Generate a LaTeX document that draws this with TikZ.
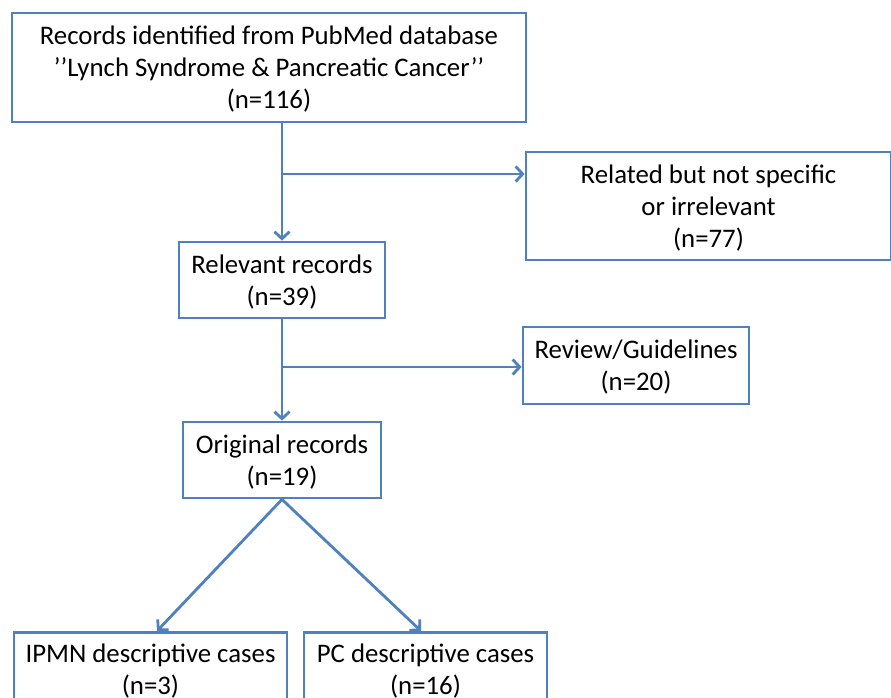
\documentclass[tikz,border=0pt]{standalone}
\usepackage{fontspec}
\setmainfont{Carlito}
\usetikzlibrary{arrows.meta,calc}
\definecolor{boxblue}{RGB}{79,129,189}
\begin{document}
\begin{tikzpicture}[x=1pt,y=-1pt,
  txt/.style={font=\fontsize{26.8}{32}\selectfont, align=center, inner sep=0pt, text=black},
  box/.style={txt, draw=boxblue, line width=2.8pt, text depth=-3.5pt},
  link/.style={draw=boxblue, line width=2.8pt,
    -{Straight Barb[length=7pt,width=15pt,line width=2.8pt]}}]
\useasboundingbox[fill=white] (0,0) rectangle (891,698);
\node[box, minimum width=514pt, minimum height=109pt] (rec) at (269,67.5)
  {Records identified from PubMed database\\’’Lynch Syndrome \& Pancreatic Cancer’’\\(n=116)};
\node[box, minimum width=365pt, minimum height=108pt] (irr) at (708.5,206)
  {Related but not specific\\or irrelevant\\(n=77)};
\node[box, minimum width=206pt, minimum height=76pt] (rel) at (282,280)
  {Relevant records\\(n=39)};
\node[box, minimum width=226pt, minimum height=77pt] (rev) at (636,365.5)
  {Review/Guidelines\\(n=20)};
\node[box, minimum width=198pt, minimum height=76pt] (orig) at (282,460)
  {Original records\\(n=19)};
\node[box, minimum width=273pt, minimum height=120pt, anchor=north] (ipmn) at (150.5,631)
  {};
\node[box, anchor=north, minimum width=243pt, minimum height=120pt] (pc) at (425.5,631)
  {};
\node[txt, anchor=north] (ipmnt) at ($(ipmn.north)+(0,13)$)
  {IPMN descriptive cases\\(n=3)};
\node[txt, anchor=north] (pct) at ($(pc.north)+(0,13)$)
  {PC descriptive cases\\(n=16)};
\coordinate (b1) at (282,174);
\coordinate (b2) at (282,367);
\draw[link] (rec.south -| rel.north) -- (rel.north);
\draw[link] (b1) -- (b1 -| irr.west);
\draw[link] (rel.south) -- (orig.north);
\draw[link] (b2) -- (b2 -| rev.west);
\draw[link] (orig.south) -- ($(ipmn.north)+(6.5,0)$);
\draw[link] (orig.south) -- ($(pc.north)+(-4.5,0)$);
\end{tikzpicture}
\end{document}
